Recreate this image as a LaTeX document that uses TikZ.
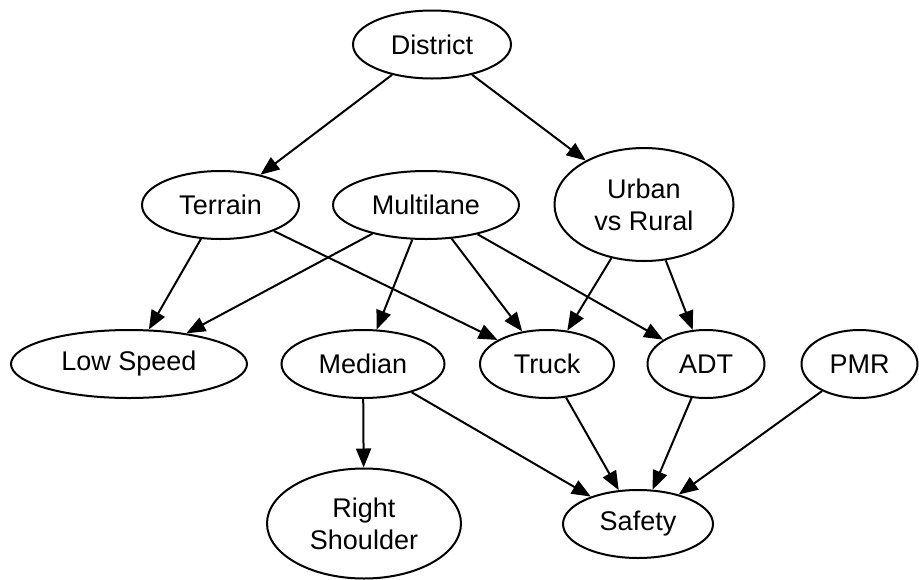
\documentclass[tikz,border=0pt]{standalone}
\usepackage{fontspec}
\setmainfont{Liberation Sans}
\usetikzlibrary{shapes.geometric,arrows.meta}
\begin{document}
\begin{tikzpicture}[x=1pt,y=-1pt,
  nd/.style={draw=black,line width=2pt,ellipse,inner sep=0pt,align=center,
    font=\fontsize{27}{32}\selectfont,minimum height=68pt},
  ed/.style={draw=black,line width=2pt,-{Triangle[length=19pt,width=15pt]}}]
\useasboundingbox (0,0) rectangle (919,579);
\node[nd,minimum width=158pt] (district) at (432,44.5) {District};
\node[nd,minimum width=157pt] (terrain) at (220.5,205) {Terrain};
\node[nd,minimum width=186pt] (multilane) at (426,205) {Multilane};
\node[nd,minimum width=179pt,minimum height=113pt] (urban) at (644,204.5) {Urban\\vs Rural};
\node[nd,minimum width=236pt] (lowspeed) at (129,364) {Low Speed};
\node[nd,minimum width=163pt] (median) at (363,364) {Median};
\node[nd,minimum width=134pt] (truck) at (547,364) {Truck};
\node[nd,minimum width=117pt] (adt) at (706,364) {ADT};
\node[nd,minimum width=116pt] (pmr) at (859.5,364) {PMR};
\node[nd,minimum width=194pt,minimum height=110pt] (rshoulder) at (364,523.5) {Right\\Shoulder};
\node[nd,minimum width=150pt] (safety) at (638,524) {Safety};
\draw[ed] (district) -- (terrain);
\draw[ed] (district) -- (urban);
\draw[ed] (terrain) -- (lowspeed);
\draw[ed] (terrain) -- (truck);
\draw[ed] (multilane) -- (lowspeed);
\draw[ed] (multilane) -- (median);
\draw[ed] (multilane) -- (truck);
\draw[ed] (multilane) -- (adt);
\draw[ed] (urban) -- (truck);
\draw[ed] (urban) -- (adt);
\draw[ed] (median) -- (rshoulder);
\draw[ed] (median) -- (safety);
\draw[ed] (truck) -- (safety);
\draw[ed] (adt) -- (safety);
\draw[ed] (pmr) -- (safety);
\end{tikzpicture}
\end{document}
